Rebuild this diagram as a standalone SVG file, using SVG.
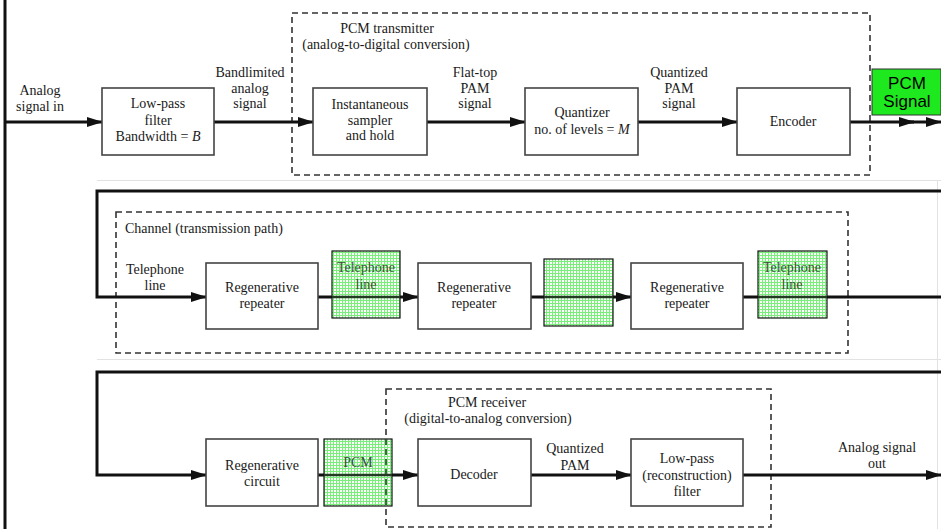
<svg xmlns="http://www.w3.org/2000/svg" width="941" height="529" viewBox="0 0 941 529">
<style>
.t{font-family:"Liberation Serif","Times New Roman",serif;font-size:14px;fill:#1a1a1a;text-anchor:middle}
.tl{text-anchor:start}
.box{fill:#fff;stroke:#444;stroke-width:1.6}
.dash{fill:none;stroke:#333;stroke-width:1.6;stroke-dasharray:6 4}
.wire{fill:none;stroke:#111;stroke-width:3}
.hatch{fill:url(#grid);stroke:#111;stroke-width:1.2}
.gt{font-family:"Liberation Serif","Times New Roman",serif;font-size:14px;fill:#3a523a;text-anchor:middle}
.faint{stroke:#e2e2e2;stroke-width:1;fill:none}
.sans{font-family:"Liberation Sans",Arial,sans-serif;font-size:17px;fill:#000;text-anchor:middle}
</style>
<defs>
<marker id="ah" markerWidth="16" markerHeight="10" refX="15" refY="5" orient="auto" markerUnits="userSpaceOnUse">
<path d="M0,0 L16,5 L0,10 z" fill="#111"/>
</marker>
<pattern id="grid" width="3" height="3" patternUnits="userSpaceOnUse">
<rect width="3" height="3" fill="#fafffa"/>
<path d="M0,0.5 H3 M0.5,0 V3" stroke="#7aee7a" stroke-width="1"/>
</pattern>
</defs>
<rect width="941" height="529" fill="#fff"/>
<g id="frame">
<path class="faint" d="M97,180.5 H941 M97,359.5 H941 M937.5,180 V359 M937.5,360 V529"/>
<line x1="5" y1="0" x2="5" y2="529" stroke="#111" stroke-width="3"/>
</g>

<g id="containers">
<g id="pcm-transmitter">
<rect class="dash" x="292" y="13" width="578" height="162"/>
<text class="t" x="387" y="33">PCM transmitter</text>
<text class="t" x="386" y="49">(analog-to-digital conversion)</text>
</g>
<g id="channel">
<rect class="dash" x="116" y="212" width="732" height="141"/>
<text class="t tl" x="125" y="233">Channel (transmission path)</text>
</g>
<g id="pcm-receiver">
<rect class="dash" x="386" y="389" width="385" height="138"/>
<text class="t" x="487" y="407">PCM receiver</text>
<text class="t" x="488" y="423">(digital-to-analog conversion)</text>
</g>
</g>

<g id="connectors">
<path class="wire" d="M5,122 H102" marker-end="url(#ah)"/>
<path class="wire" d="M214,122 H313" marker-end="url(#ah)"/>
<path class="wire" d="M427,122 H525" marker-end="url(#ah)"/>
<path class="wire" d="M638,122 H737" marker-end="url(#ah)"/>
<path class="wire" d="M850,122 H914" marker-end="url(#ah)"/>
<path class="wire" d="M900,122 H941" marker-end="url(#ah)"/>
<path class="wire" d="M941,191 H97 V297 H206" marker-end="url(#ah)"/>
<path class="wire" d="M318,297 H418" marker-end="url(#ah)"/>
<path class="wire" d="M531,297 H631" marker-end="url(#ah)"/>
<path class="wire" d="M743,297 H941"/>
<path class="wire" d="M941,372 H97 V475 H206" marker-end="url(#ah)"/>
<path class="wire" d="M318,475 H418" marker-end="url(#ah)"/>
<path class="wire" d="M531,475 H631" marker-end="url(#ah)"/>
<path class="wire" d="M743,475 H941" marker-end="url(#ah)"/>
</g>

<g id="labels">
<text class="t" x="40" y="95">Analog</text>
<text class="t" x="40" y="111">signal in</text>
<text class="t" x="250" y="77">Bandlimited</text>
<text class="t" x="250" y="93">analog</text>
<text class="t" x="250" y="108">signal</text>
<text class="t" x="475" y="77">Flat-top</text>
<text class="t" x="475" y="93">PAM</text>
<text class="t" x="475" y="108">signal</text>
<text class="t" x="679" y="77">Quantized</text>
<text class="t" x="679" y="93">PAM</text>
<text class="t" x="679" y="108">signal</text>
<text class="t" x="155" y="274">Telephone</text>
<text class="t" x="155" y="290">line</text>
<text class="t" x="575" y="453">Quantized</text>
<text class="t" x="575" y="470">PAM</text>
<text class="t" x="877" y="452">Analog signal</text>
<text class="t" x="877" y="468">out</text>
</g>

<g id="lowpass-filter">
<rect class="box" x="102" y="88" width="112" height="67"/>
<text class="t" x="158" y="108">Low-pass</text>
<text class="t" x="158" y="125">filter</text>
<text class="t" x="158" y="141">Bandwidth = <tspan font-style="italic">B</tspan></text>
</g>
<g id="sampler">
<rect class="box" x="313" y="88" width="114" height="67"/>
<text class="t" x="370" y="109">Instantaneous</text>
<text class="t" x="370" y="125">sampler</text>
<text class="t" x="370" y="140">and hold</text>
</g>
<g id="quantizer">
<rect class="box" x="525" y="88" width="113" height="67"/>
<text class="t" x="582" y="117">Quantizer</text>
<text class="t" x="582" y="134">no. of levels = <tspan font-style="italic">M</tspan></text>
</g>
<g id="encoder">
<rect class="box" x="737" y="88" width="113" height="67"/>
<text class="t" x="793" y="126">Encoder</text>
</g>
<g id="pcm-signal">
<rect x="872" y="69" width="69" height="46" fill="#1ee81e" stroke="#333" stroke-width="1"/>
<text class="sans" x="907" y="89">PCM</text>
<text class="sans" x="907" y="107">Signal</text>
</g>

<g id="repeater1">
<rect class="box" x="206" y="263" width="112" height="66"/>
<text class="t" x="262" y="292">Regenerative</text>
<text class="t" x="262" y="308">repeater</text>
</g>
<g id="repeater2">
<rect class="box" x="418" y="263" width="113" height="66"/>
<text class="t" x="474" y="292">Regenerative</text>
<text class="t" x="474" y="308">repeater</text>
</g>
<g id="repeater3">
<rect class="box" x="631" y="263" width="112" height="66"/>
<text class="t" x="687" y="292">Regenerative</text>
<text class="t" x="687" y="308">repeater</text>
</g>
<g id="line-patch1">
<rect class="hatch" x="332" y="251" width="68" height="67"/>
<line x1="332" y1="297" x2="400" y2="297" stroke="#223a22" stroke-width="2.5"/>
<text class="gt" x="366" y="272">Telephone</text>
<text class="gt" x="366" y="289">line</text>
</g>
<g id="line-patch2">
<rect class="hatch" x="544" y="259" width="69" height="67"/>
<line x1="544" y1="297" x2="613" y2="297" stroke="#223a22" stroke-width="2.5"/>
</g>
<g id="line-patch3">
<rect class="hatch" x="758" y="251" width="69" height="67"/>
<line x1="758" y1="297" x2="827" y2="297" stroke="#223a22" stroke-width="2.5"/>
<text class="gt" x="792" y="272">Telephone</text>
<text class="gt" x="792" y="289">line</text>
</g>

<g id="regen-circuit">
<rect class="box" x="206" y="439" width="112" height="67"/>
<text class="t" x="262" y="470">Regenerative</text>
<text class="t" x="262" y="486">circuit</text>
</g>
<g id="pcm-patch">
<rect class="hatch" x="324" y="439" width="68" height="67"/>
<line x1="324" y1="475" x2="392" y2="475" stroke="#223a22" stroke-width="2.5"/>
<line x1="386" y1="439" x2="386" y2="506" stroke="#333" stroke-width="1.6" stroke-dasharray="6 4"/>
<text class="gt" x="358" y="467">PCM</text>
</g>
<g id="decoder">
<rect class="box" x="418" y="439" width="113" height="67"/>
<text class="t" x="474" y="479">Decoder</text>
</g>
<g id="reconstruction-filter">
<rect class="box" x="631" y="439" width="112" height="67"/>
<text class="t" x="687" y="463">Low-pass</text>
<text class="t" x="687" y="480">(reconstruction)</text>
<text class="t" x="687" y="496">filter</text>
</g>
</svg>
